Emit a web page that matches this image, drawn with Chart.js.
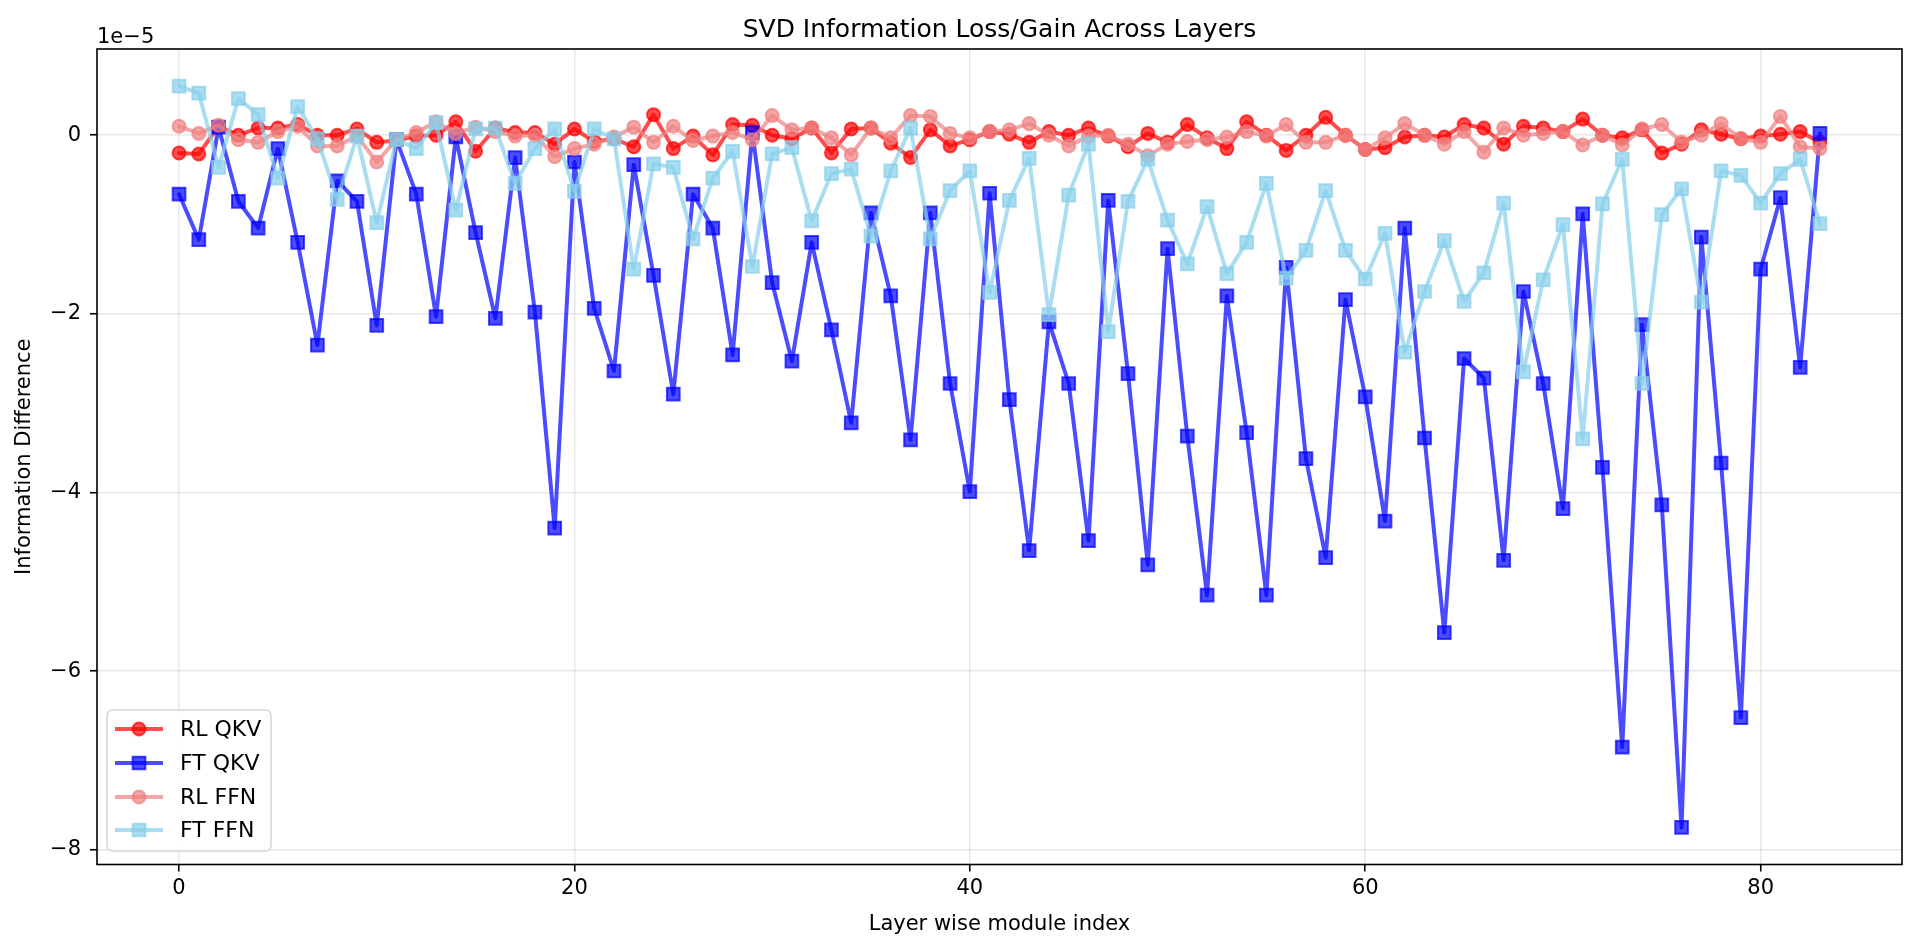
<!DOCTYPE html>
<html>
<head>
<meta charset="utf-8">
<title>SVD Information Loss/Gain Across Layers</title>
<script src="https://cdn.jsdelivr.net/npm/chart.js@4.4.1/dist/chart.umd.min.js"></script>
<style>
  html, body { margin: 0; padding: 0; background: #fff; }
  canvas { display: block; }
</style>
</head>
<body>
<canvas id="svdChart" width="1920" height="949"></canvas>
<script>
// values are in units of 1e-5 (the axis multiplier shown top-left)
const layers = Array.from({ length: 84 }, (_, i) => i);

const rlQkv = [
  -0.20, -0.21, 0.10, 0.00, 0.08, 0.08, 0.12, 0.00, 0.00, 0.07,
  -0.08, -0.06, -0.01, 0.00, 0.15, -0.18, 0.08, 0.03, 0.03, -0.10,
  0.07, -0.07, -0.04, -0.13, 0.23, -0.15, -0.01, -0.22, 0.12, 0.11,
  0.00, -0.04, 0.08, -0.20, 0.07, 0.08, -0.09, -0.25, 0.06, -0.12,
  -0.05, 0.04, 0.01, -0.08, 0.04, 0.00, 0.08, -0.01, -0.13, 0.02,
  -0.08, 0.12, -0.03, -0.15, 0.15, 0.00, -0.17, 0.00, 0.20, 0.00,
  -0.16, -0.14, -0.02, 0.00, -0.02, 0.12, 0.08, -0.10, 0.10, 0.08,
  0.04, 0.18, 0.00, -0.03, 0.06, -0.20, -0.10, 0.06, 0.01, -0.04,
  -0.01, 0.01, 0.04, -0.08
];

const ftQkv = [
  -0.66, -1.17, 0.09, -0.74, -1.04, -0.15, -1.20, -2.35, -0.51, -0.74,
  -2.13, -0.05, -0.66, -2.03, -0.02, -1.09, -2.05, -0.25, -1.98, -4.40,
  -0.30, -1.94, -2.64, -0.33, -1.57, -2.90, -0.66, -1.04, -2.46, 0.03,
  -1.65, -2.53, -1.20, -2.18, -3.22, -0.87, -1.80, -3.41, -0.87, -2.78,
  -3.99, -0.65, -2.96, -4.65, -2.09, -2.78, -4.54, -0.73, -2.67, -4.81,
  -1.27, -3.37, -5.15, -1.80, -3.33, -5.15, -1.48, -3.62, -4.73, -1.84,
  -2.93, -4.32, -1.04, -3.39, -5.57, -2.50, -2.72, -4.76, -1.75, -2.78,
  -4.18, -0.88, -3.72, -6.85, -2.12, -4.14, -7.75, -1.14, -3.67, -6.52,
  -1.50, -0.70, -2.60, 0.02
];

const rlFfn = [
  0.10, 0.02, 0.11, -0.05, -0.08, 0.04, 0.10, -0.12, -0.12, -0.01,
  -0.30, -0.05, 0.03, 0.15, 0.02, 0.09, 0.04, -0.01, 0.00, -0.24,
  -0.15, -0.10, -0.02, 0.09, -0.08, 0.10, -0.06, -0.01, 0.03, -0.05,
  0.22, 0.06, 0.08, -0.03, -0.22, 0.08, -0.03, 0.22, 0.21, 0.02,
  -0.03, 0.04, 0.06, 0.13, 0.00, -0.12, -0.01, 0.00, -0.10, -0.23,
  -0.10, -0.07, -0.05, -0.02, 0.04, -0.01, 0.12, -0.08, -0.08, 0.00,
  -0.16, -0.03, 0.13, 0.00, -0.10, 0.04, -0.19, 0.08, 0.00, 0.02,
  0.04, -0.11, 0.00, -0.11, 0.07, 0.12, -0.08, 0.00, 0.13, -0.04,
  -0.08, 0.21, -0.13, -0.15
];

const ftFfn = [
  0.55, 0.47, -0.36, 0.41, 0.23, -0.48, 0.32, -0.04, -0.72, -0.01,
  -0.98, -0.05, -0.15, 0.14, -0.84, 0.07, 0.08, -0.54, -0.15, 0.07,
  -0.63, 0.07, -0.04, -1.50, -0.32, -0.36, -1.16, -0.48, -0.18, -1.47,
  -0.21, -0.14, -0.96, -0.43, -0.38, -1.13, -0.40, 0.08, -1.16, -0.62,
  -0.40, -1.76, -0.73, -0.26, -2.01, -0.67, -0.10, -2.20, -0.74, -0.27,
  -0.95, -1.44, -0.80, -1.55, -1.20, -0.54, -1.60, -1.29, -0.62, -1.29,
  -1.61, -1.10, -2.43, -1.75, -1.18, -1.86, -1.54, -0.76, -2.65, -1.62,
  -1.00, -3.40, -0.77, -0.27, -2.78, -0.89, -0.60, -1.87, -0.40, -0.45,
  -0.76, -0.43, -0.27, -0.99
];

const xTicks = [0, 20, 40, 60, 80];
const yTicks = [-8, -6, -4, -2, 0];

const seriesNames = ["RL QKV", "FT QKV", "RL FFN", "FT FFN"];
const seriesColors = ["rgba(255,0,0,0.7)", "rgba(0,0,255,0.7)", "rgba(240,128,128,0.7)", "rgba(135,206,235,0.7)"];
const seriesMarkers = ["circle", "rect", "circle", "rect"];
const seriesValues = [rlQkv, ftQkv, rlFfn, ftFfn];

const FONT = "'DejaVu Sans', sans-serif";

function makeDataset(i) {
  const isRect = seriesMarkers[i] === "rect";
  return {
    label: seriesNames[i],
    data: seriesValues[i].map((v, k) => ({ x: layers[k], y: v })),
    borderColor: seriesColors[i],
    backgroundColor: seriesColors[i],
    pointBorderColor: seriesColors[i],
    pointBackgroundColor: seriesColors[i],
    borderWidth: 4,
    borderJoinStyle: "round",
    borderCapStyle: "round",
    pointStyle: seriesMarkers[i],
    pointRadius: isRect ? 9 : 6.5,
    pointBorderWidth: 2,
    pointHoverRadius: isRect ? 9 : 6.5,
    tension: 0,
    fill: false,
    order: 4 - i   // later series on top, like matplotlib
  };
}

function drawMarker(ctx, style, x, y, color) {
  ctx.save();
  ctx.fillStyle = color;
  ctx.strokeStyle = color;
  ctx.lineWidth = 2;
  ctx.beginPath();
  if (style === "rect") {
    const s = 9 * Math.SQRT1_2;
    ctx.rect(x - s, y - s, 2 * s, 2 * s);
  } else {
    ctx.arc(x, y, 6.5, 0, Math.PI * 2);
  }
  ctx.fill();
  ctx.stroke();
  ctx.restore();
}

function roundRect(ctx, x, y, w, h, r) {
  ctx.beginPath();
  ctx.moveTo(x + r, y);
  ctx.lineTo(x + w - r, y);
  ctx.quadraticCurveTo(x + w, y, x + w, y + r);
  ctx.lineTo(x + w, y + h - r);
  ctx.quadraticCurveTo(x + w, y + h, x + w - r, y + h);
  ctx.lineTo(x + r, y + h);
  ctx.quadraticCurveTo(x, y + h, x, y + h - r);
  ctx.lineTo(x, y + r);
  ctx.quadraticCurveTo(x, y, x + r, y);
  ctx.closePath();
}

const decorPlugin = {
  id: "decor",
  afterDraw(chart) {
    const ctx = chart.ctx;
    const a = chart.chartArea;
    const cx = (a.left + a.right) / 2;
    const cy = (a.top + a.bottom) / 2;
    ctx.save();

    // spines
    ctx.strokeStyle = "#000";
    ctx.lineWidth = 1.6;
    ctx.strokeRect(a.left, a.top, a.right - a.left, a.bottom - a.top);

    // title & labels
    ctx.fillStyle = "#000";
    ctx.textAlign = "center";
    ctx.textBaseline = "alphabetic";
    ctx.font = "25px " + FONT;
    ctx.fillText("SVD Information Loss/Gain Across Layers", cx, 37);

    ctx.font = "21px " + FONT;
    ctx.fillText("Layer wise module index", cx, 930);

    ctx.save();
    ctx.translate(31, cy);
    ctx.rotate(-Math.PI / 2);
    ctx.textBaseline = "middle";
    ctx.fillText("Information Difference", 0, -6);
    ctx.restore();

    ctx.textAlign = "left";
    ctx.fillText("1e\u22125", a.left, 43);

    // legend (lower left, inside axes)
    const lx = 107, ly = 710, lw = 164, lh = 141;
    roundRect(ctx, lx, ly, lw, lh, 6);
    ctx.fillStyle = "rgba(255,255,255,0.8)";
    ctx.fill();
    ctx.strokeStyle = "#d5d5d5";
    ctx.lineWidth = 1.5;
    ctx.stroke();

    const rowY = [729, 763, 797, 830];
    ctx.textBaseline = "middle";
    ctx.font = "22px " + FONT;
    for (let i = 0; i < seriesNames.length; i++) {
      const y = rowY[i];
      ctx.strokeStyle = seriesColors[i];
      ctx.lineWidth = 4;
      ctx.beginPath();
      ctx.moveTo(115, y);
      ctx.lineTo(163, y);
      ctx.stroke();
      drawMarker(ctx, seriesMarkers[i], 139, y, seriesColors[i]);
      ctx.fillStyle = "#000";
      ctx.textAlign = "left";
      ctx.fillText(seriesNames[i], 180, y + 1);
    }
    ctx.restore();
  }
};

new Chart(document.getElementById("svdChart"), {
  type: "line",
  data: { datasets: [0, 1, 2, 3].map(makeDataset) },
  options: {
    responsive: false,
    devicePixelRatio: 1,
    animation: false,
    layout: { padding: { top: 49, right: 18, left: 0, bottom: 0 } },
    plugins: {
      legend: { display: false },
      title: { display: false },
      tooltip: { enabled: false }
    },
    scales: {
      x: {
        type: "linear",
        min: -4.15,
        max: 87.15,
        afterFit: s => { s.height = 84.5; },
        afterBuildTicks: s => { s.ticks = xTicks.map(v => ({ value: v })); },
        border: { display: false },
        grid: {
          color: "rgba(176,176,176,0.3)",
          lineWidth: 1.5,
          tickColor: "#000",
          tickLength: 7,
          tickWidth: 1.6
        },
        ticks: {
          autoSkip: false,
          maxRotation: 0,
          padding: 4,
          color: "#000",
          font: { family: FONT, size: 21 },
          callback: v => String(v)
        }
      },
      y: {
        type: "linear",
        min: -8.165,
        max: 0.965,
        afterFit: s => { s.width = 97; },
        afterBuildTicks: s => { s.ticks = yTicks.map(v => ({ value: v })); },
        border: { display: false },
        grid: {
          color: "rgba(176,176,176,0.3)",
          lineWidth: 1.5,
          tickColor: "#000",
          tickLength: 7,
          tickWidth: 1.6
        },
        ticks: {
          autoSkip: false,
          padding: 9,
          color: "#000",
          font: { family: FONT, size: 21 },
          callback: v => (v < 0 ? "\u2212" + Math.abs(v) : String(v))
        }
      }
    }
  },
  plugins: [decorPlugin]
});
</script>
</body>
</html>
